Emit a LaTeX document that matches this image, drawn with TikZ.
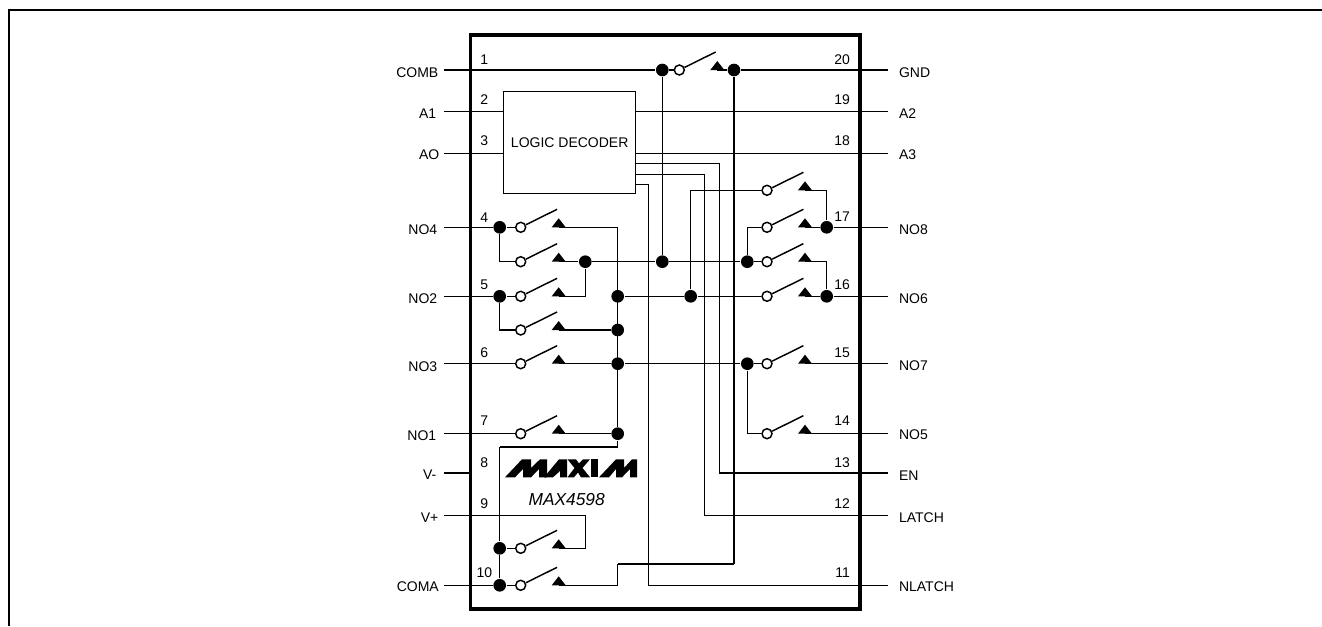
\documentclass[tikz,border=0pt]{standalone}
\usepackage{fontspec}
\setmainfont{Liberation Sans}
\tikzset{
  jdot/.style={circle,fill=black,inner sep=0pt,minimum size=9.5pt},
  swc/.style={circle,draw,fill=white,inner sep=0pt,minimum size=7.5pt},
  lbl/.style={inner sep=0pt,font=\fontsize{10.5}{12}\selectfont},
  chipbox/.style={draw,line width=2.6pt,minimum width=292.1pt,minimum height=430.3pt,inner sep=0pt},
  decbox/.style={draw,minimum width=99pt,minimum height=76.5pt,inner sep=0pt,font=\fontsize{10.5}{12}\selectfont}
}
\begin{document}
\begin{tikzpicture}[x=.75pt,y=-.75pt,line width=1.1pt]
      \useasboundingbox (0,0) rectangle (1322,626);
      \draw [line width=1.5pt] (9,626) -- (9,10) -- (1322,10);

      \node [chipbox] (chip) at (665.3,321.9) {};
      \node [decbox] (dec) at (569.7,142.7) {LOGIC DECODER};

      % pins, left side
      \foreach \name/\y/\ty/\txt/\tx in {COMB/70/72.7/COMB/439,A1/111.7/113.7/A1/437,AO/153.3/155/AO/440,
          NO4/227.3/230/NO4/438,NO2/296.3/299/NO2/438,NO3/363.7/367/NO3/438,NO1/433.7/435.5/NO1/437,
          vn/473/475/V-/437,vp/515.3/518/V+/439,COMA/585.3/587/COMA/439.5}{
        \coordinate (p\name) at (444.3,\y);
        \node [lbl,anchor=east] (l\name) at (\tx,\ty) {\txt};
      }
      % pins, right side
      \foreach \name/\y/\ty in {GND/70/72.7,A2/111.7/113.5,A3/153.3/155,NO8/227.3/229.7,NO6/296.3/299,
          NO7/363.7/366,NO5/433.7/435,EN/473/475.5,LATCH/515.3/518,NLATCH/585.3/587}{
        \coordinate (p\name) at (888.3,\y);
        \node [lbl,anchor=west] (l\name) at (898.3,\ty) {\name};
      }
      % pin numbers
      \foreach \n/\y in {1/60,2/100,3/141,4/217.3,5/285,6/353,7/420.5,8/462.7,9/503.7,10/573}
        \node [lbl] (n\n) at (484.3,\y) {\n};
      \foreach \n/\y in {20/60,19/100,18/141,17/217,16/285,15/353,14/420.5,13/462.5,12/503.7,11/573}
        \node [lbl,anchor=east] (n\n) at (850.7,\y) {\n};

      % switches
      \foreach \name/\x/\y in {b/679.3/70,4/520.7/227.3,x/520.7/261.7,2/520.7/296.3,y/520.7/330,
          3/520.7/363.7,1/520.7/433.7,v/520.7/548.3,w/520.7/585.3,p/767/190.3,8/767/227.3,
          q/767/261.7,6/767/296.3,7/767/363.7,5/767/433.7}{
        \node [swc] (c\name) at (\x,\y) {};
        \coordinate (a\name) at (\x+36.4,\y-18);
        \coordinate (t\name) at (\x+38,\y);
        \draw (c\name) -- (a\name);
        \fill (\x+31,\y) -- (\x+45,\y) -- (\x+38,\y-9) -- cycle;
      }

      % junctions
      \foreach \name/\x/\y in {da/662.3/70,db/734/70,dc/499.7/227.3,dd/499.7/296.3,de/585.3/261.7,
          df/662.3/261.7,dg/747.3/261.7,dh/617.7/296.3,di/690.7/296.3,dj/617.7/330,dk/617.7/363.7,
          dl/747.3/363.7,dm/617.7/433.7,dn/826.7/227.3,do/826.7/296.3,dp/499.7/548.3,dq/499.7/585.3}
        \node [jdot] (\name) at (\x,\y) {};

      % corners
      \coordinate (ua) at (734,564);
      \coordinate (ub) at (617.7,564);
      \coordinate (uc) at (617.7,447);
      \coordinate (ud) at (499.7,447);
      \coordinate (ve) at (585.7,548.3);
      \coordinate (oEN) at (635.7,163.3);
      \coordinate (oLATCH) at (635.7,174.3);
      \coordinate (oNLATCH) at (635.7,184.7);
      \coordinate (cEN) at (719.3,473);
      \coordinate (cLATCH) at (704.3,515.3);
      \coordinate (cNLATCH) at (648.7,585.3);

      % decoder and supply
      \foreach \from in {A1,AO}
        \draw (p\from) -- (dec.west |- p\from);
      \foreach \to in {A2,A3}
        \draw (dec.east |- p\to) -- (p\to);
      \foreach \name in {EN,LATCH,NLATCH}
        \draw (o\name) -| (c\name) -- (p\name);
      \draw (pvn) -- (chip.west |- pvn);

      % wires
      \foreach \from/\to in {pCOMB/da,da/cb,tb/db,db/pGND,da/df,pNO4/dc,dc/c4,tx/de,de/df,df/dg,dg/cq,
          pNO2/dd,dd/c2,ty/dj,dh/di,di/c6,pNO3/c3,t3/dk,dk/dl,dl/c7,pNO1/c1,t1/dm,dm/uc,uc/ud,ud/dp,
          dp/dq,dp/cv,pCOMA/dq,dq/cw,db/ua,ua/ub,t8/dn,dn/pNO8,t6/do,do/pNO6,t7/pNO7,t5/pNO5,ve/tv}
        \draw (\from) -- (\to);
      \foreach \from/\to in {dc/cx,dd/cy,di/cp,dg/c8,dl/c5,ub/tw}
        \draw (\from) |- (\to);
      \foreach \from/\to in {t4/dm,t2/de,tp/dn,tq/do,pvp/ve}
        \draw (\from) -| (\to);

      % logo and part number
      \fill (505,477.3) -- (522,459.3) -- (531,459.3) -- (531,468) -- (540,459.3) -- (547,459.3) -- (547,477.3)
        -- (539,477.3) -- (539,469) -- (531,477.3) -- (523,477.3) -- (523,469) -- (515,477.3) -- cycle;
      \fill (544,477.3) -- (559,459.3) -- (567,459.3) -- (567,477.3) -- (560,477.3) -- (560,471) -- (553,477.3) -- cycle;
      \fill (567.5,459.3) -- (576,459.3) -- (579,463.5) -- (583,459.3) -- (590,459.3) -- (582.5,468) -- (590,477.3)
        -- (581,477.3) -- (578,472.5) -- (574,477.3) -- (567.5,477.3) -- (574.5,468) -- cycle;
      \fill (591,459.3) rectangle (597.5,477.3);
      \fill (599,477.3) -- (616,459.3) -- (624,459.3) -- (624,468) -- (632,459.3) -- (637,459.3) -- (637,477.3)
        -- (630,477.3) -- (630,469) -- (622,477.3) -- (616,477.3) -- (616,469) -- (609,477.3) -- cycle;
      \node [inner sep=0pt,font=\fontsize{13}{15}\selectfont\itshape] (part) at (566.7,500) {MAX4598};
    \end{tikzpicture}
\end{document}
